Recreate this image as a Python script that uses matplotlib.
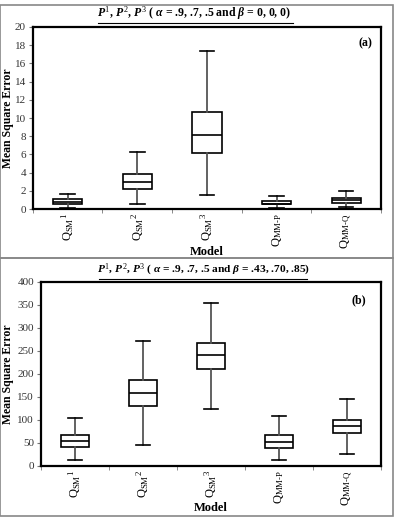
"""Box plots of mean square error per model, two panels."""
import matplotlib
matplotlib.use("Agg")
import matplotlib.pyplot as plt
from matplotlib.patches import Rectangle
from matplotlib.lines import Line2D

plt.rcParams["font.family"] = "Liberation Serif"
plt.rcParams["mathtext.fontset"] = "custom"
plt.rcParams["mathtext.rm"] = "Liberation Serif"
plt.rcParams["mathtext.it"] = "Liberation Serif:italic:bold"
plt.rcParams["mathtext.bf"] = "Liberation Serif:bold"

MODELS = [r"$\mathrm{Q_{SM}{}^{1}}$", r"$\mathrm{Q_{SM}{}^{2}}$", r"$\mathrm{Q_{SM}{}^{3}}$",
          r"$\mathrm{Q_{MM\text{-}P}}$", r"$\mathrm{Q_{MM\text{-}Q}}$"]

# panel (a): whisker low, q1, median, q3, whisker high
A_LOW = [0.1, 0.5, 1.5, 0.1, 0.2]
A_Q1 = [0.6, 2.2, 6.2, 0.5, 0.7]
A_MED = [0.8, 2.95, 8.1, 0.6, 1.0]
A_Q3 = [1.1, 3.8, 10.7, 0.9, 1.2]
A_HIGH = [1.7, 6.3, 17.4, 1.4, 2.0]

# panel (b)
B_LOW = [13, 45, 124, 12, 26]
B_Q1 = [42, 130, 211, 39, 72]
B_MED = [55, 158, 242, 53, 86]
B_Q3 = [67, 186, 268, 67, 101]
B_HIGH = [105, 271, 355, 108, 146]

A_TICKS = list(range(0, 21, 2))
B_TICKS = list(range(0, 401, 50))

TITLE_A = r"$\mathit{P^{1}}$, $\mathit{P^{2}}$, $\mathit{P^{3}}$ ( $\mathit{\alpha}$ = .9, .7, .5 and $\mathit{\beta}$ = 0, 0, 0)"
TITLE_B = r"$\mathit{P^{1}}$, $\mathit{P^{2}}$, $\mathit{P^{3}}$ ( $\mathit{\alpha}$ = .9, .7, .5 and $\mathit{\beta}$ = .43, .70, .85)"


def make_stats(low, q1, med, q3, high):
    return [{"whislo": a, "q1": b, "med": c, "q3": d, "whishi": e, "fliers": []}
            for a, b, c, d, e in zip(low, q1, med, q3, high)]


def draw_panel(ax, stats, ticks, tag, tag_xy, ylab_x):
    ax.bxp(stats, positions=range(len(stats)), widths=0.42, showfliers=False,
           patch_artist=True,
           boxprops=dict(facecolor="white", edgecolor="black", linewidth=1.2),
           medianprops=dict(color="black", linewidth=1.2),
           whiskerprops=dict(color="#555555", linewidth=1.3),
           capprops=dict(color="black", linewidth=1.2))
    ax.set_xlim(-0.5, len(stats) - 0.5)
    ax.set_ylim(ticks[0], ticks[-1])
    ax.set_yticks(ticks)
    ax.set_xticks(range(len(stats)))
    ax.set_xticklabels(MODELS, rotation=90, fontsize=9)
    ax.set_xticks([i + 0.5 for i in range(-1, len(stats))], minor=True)
    ax.tick_params(axis="x", which="major", length=0, pad=3)
    ax.tick_params(axis="x", which="minor", length=3, direction="out", color="#777777")
    ax.tick_params(axis="y", length=3, direction="out", labelsize=8, labelcolor="#333333",
                   color="#777777", pad=2)
    for s in ax.spines.values():
        s.set_linewidth(1.6)
    ax.set_ylabel("Mean Square Error", fontsize=8.5, fontweight="bold", va="center")
    ax.yaxis.set_label_coords(ylab_x, 0.5)
    ax.set_xlabel("Model", fontsize=9, fontweight="bold", labelpad=-2.5)
    ax.text(tag_xy[0], tag_xy[1], tag, transform=ax.transAxes, fontsize=8.5,
            fontweight="bold", ha="center", va="center")


fig = plt.figure(figsize=(3.96, 5.18), dpi=100)

# gray frames around the two panels
for y0, h in [(0.502, 0.488), (0.004, 0.498)]:
    fig.patches.append(Rectangle((0.0, y0), 0.992, h, transform=fig.transFigure,
                                 fill=False, edgecolor="#888888", linewidth=1.2))

ax1 = fig.add_axes([0.083, 0.5965, 0.879, 0.3514])
draw_panel(ax1, make_stats(A_LOW, A_Q1, A_MED, A_Q3, A_HIGH), A_TICKS, "(a)",
           (0.955, 0.91), -0.072)
fig.text(0.49, 0.957, TITLE_A, ha="center", va="bottom", fontsize=8.5, fontweight="bold")
fig.lines.append(Line2D([0.248, 0.74], [0.955, 0.955], transform=fig.transFigure,
                        color="black", linewidth=0.8))

ax2 = fig.add_axes([0.1035, 0.1004, 0.8586, 0.3552])
draw_panel(ax2, make_stats(B_LOW, B_Q1, B_MED, B_Q3, B_HIGH), B_TICKS, "(b)",
           (0.935, 0.90), -0.097)
fig.text(0.513, 0.463, TITLE_B, ha="center", va="bottom", fontsize=8.2, fontweight="bold")
fig.lines.append(Line2D([0.25, 0.776], [0.461, 0.461], transform=fig.transFigure,
                        color="black", linewidth=0.8))

fig.savefig("out.png", dpi=100)
